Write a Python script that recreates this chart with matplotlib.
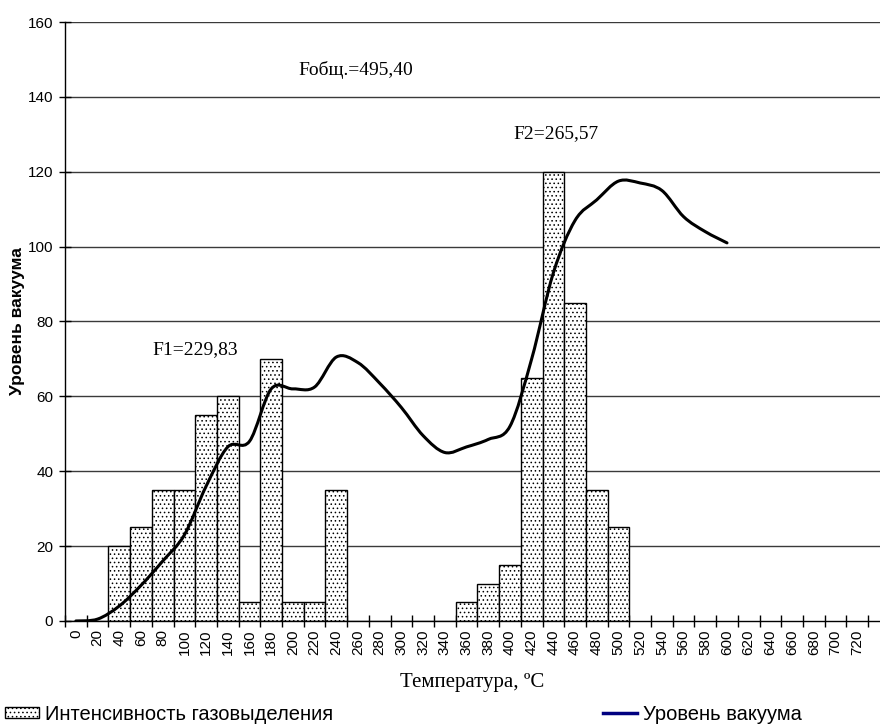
"""
Газовыделение и уровень вакуума в зависимости от температуры.
Гистограмма интенсивности + сглаженная кривая вакуума.
"""

import matplotlib
matplotlib.use("Agg")
import matplotlib.pyplot as plt
from matplotlib.path import Path
from matplotlib.patches import PathPatch, Patch
from matplotlib.lines import Line2D

# --- DATA ---
temps = list(range(0, 740, 20))  # 0..720, категории оси X

# интенсивность газовыделения (столбцы), для 0..500
gas_temps = list(range(0, 520, 20))
gas_values = [0, 0, 20, 25, 35, 35, 55, 60, 5, 70, 5, 5, 35,
              0, 0, 0, 0, 0, 5, 10, 15, 65, 120, 85, 35, 25]

# уровень вакуума (линия), для 0..600
vac_temps = list(range(0, 620, 20))
vac_values = [0, 0.5, 4, 9.5, 16, 23, 36, 46.5, 48, 62, 62, 62.5, 70.5,
              69, 63.5, 57, 49.5, 45, 46.5, 48.5, 52, 70, 93, 107, 112.5,
              117.5, 117, 115, 108, 104, 101]

y_ticks = list(range(0, 180, 20))

# подписи площадей: текст, температура (по оси X), уровень Y
notes = [("Fобщ.=495,40", 258, 147.2),
         ("F2=265,57", 442, 130.3),
         ("F1=229,83", 110, 72.6)]

SANS = "Liberation Sans"
SERIF = "Liberation Serif"
STEP = 20  # шаг категорий, °C


def smooth_path(xs, ys):
    # кубические Безье как в Excel (Catmull-Rom, tension 1/6)
    pts = list(zip(xs, ys))
    verts = [pts[0]]
    codes = [Path.MOVETO]
    n = len(pts)
    for i in range(n - 1):
        p0 = pts[i - 1] if i > 0 else pts[i]
        p1 = pts[i]
        p2 = pts[i + 1]
        p3 = pts[i + 2] if i + 2 < n else pts[i + 1]
        c1 = (p1[0] + (p2[0] - p0[0]) / 6, p1[1] + (p2[1] - p0[1]) / 6)
        c2 = (p2[0] - (p3[0] - p1[0]) / 6, p2[1] - (p3[1] - p1[1]) / 6)
        verts += [c1, c2, p2]
        codes += [Path.CURVE4] * 3
    return Path(verts, codes)


def main():
    plt.rcParams["hatch.linewidth"] = 0.6
    plt.rcParams["hatch.color"] = "#333333"

    fig = plt.figure(figsize=(8.8, 7.24), dpi=100)
    ax = fig.add_axes([0.0739, 0.1423, 0.9261, 0.8273])

    # горизонтальная сетка
    for y in y_ticks[1:]:
        ax.axhline(y, color="#3a3a3a", lw=1.0, zorder=0)

    gx = [t / STEP for t in gas_temps]
    ax.bar(gx, gas_values, width=1.0, color="white", edgecolor="black",
           linewidth=1.0, hatch="....", zorder=2)

    vx = [t / STEP for t in vac_temps]
    ax.add_patch(PathPatch(smooth_path(vx, vac_values), fill=False,
                           edgecolor="black", lw=2.2, zorder=3,
                           capstyle="round", joinstyle="round"))

    ax.set_xlim(-0.5, 37.05)
    ax.set_ylim(0, 160)

    # X: деления между категориями, подписи по центрам
    ax.set_xticks([i - 0.5 for i in range(len(temps) + 1)])
    ax.set_xticklabels([])
    ax.set_xticks(range(len(temps)), minor=True)
    ax.set_xticklabels([str(t) for t in temps], minor=True, rotation=90,
                       fontsize=11, family=SANS)
    ax.tick_params(axis="x", which="major", direction="inout", length=9, width=1)
    ax.tick_params(axis="x", which="minor", length=0, pad=6)

    ax.set_yticks(y_ticks)
    ax.set_yticklabels([str(v) for v in y_ticks], fontsize=11, family=SANS)
    ax.tick_params(axis="y", direction="inout", length=9, width=1, pad=4)

    for s in ("top", "right"):
        ax.spines[s].set_visible(False)
    for s in ("left", "bottom"):
        ax.spines[s].set_linewidth(1.0)
        ax.spines[s].set_zorder(4)

    ax.set_xlabel("Температура, ºC", family=SERIF, fontsize=15, labelpad=13)
    ax.set_ylabel("Уровень вакуума", family=SANS, fontsize=12.5,
                  fontweight="bold", labelpad=2)

    for txt, t, y in notes:
        ax.text(t / STEP, y, txt, family=SERIF, fontsize=14,
                ha="center", va="center")

    # легенда
    h1 = Patch(facecolor="white", edgecolor="black", hatch="....", lw=1.0)
    h2 = Line2D([], [], color="#000080", lw=2.5)
    common = dict(loc="center left", frameon=False, borderpad=0,
                  borderaxespad=0, prop={"family": SANS, "size": 14.5},
                  handlelength=1.7, handletextpad=0.3, handleheight=0.5)
    fig.legend([h1], ["Интенсивность газовыделения"],
               bbox_to_anchor=(0.0057, 0.0138), **common)
    fig.legend([h2], ["Уровень вакуума"],
               bbox_to_anchor=(0.685, 0.0138), **common)

    fig.savefig("out.png", dpi=100)
    plt.close(fig)


if __name__ == "__main__":
    main()
